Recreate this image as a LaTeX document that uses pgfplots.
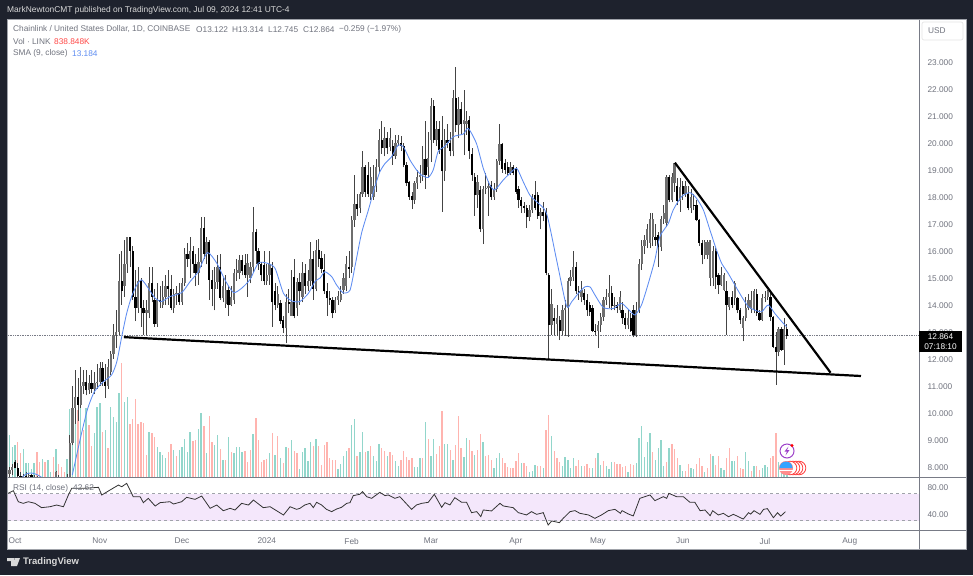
\documentclass[border=0pt]{standalone}
\usepackage{pgfplots}
\usepackage{pgfplotstable}
\usepackage{fontspec}
\setmainfont{Liberation Sans}
\pgfplotsset{compat=1.18}
\definecolor{bgdark}{HTML}{1E222D}
\definecolor{txtgrey}{HTML}{70737E}
\definecolor{upgrey}{HTML}{6E6E6E}
\definecolor{wick}{HTML}{444444}
\definecolor{volup}{HTML}{92D6CB}
\definecolor{voldn}{HTML}{FFB4AF}
\definecolor{smab}{HTML}{5E8DF2}
\definecolor{rsiband}{HTML}{F4E7FB}
\definecolor{axisline}{HTML}{787B86}
\definecolor{evpurple}{HTML}{9C3FC9}
\pgfplotstableread{
d o h l c
-2 7.75 8.0 7.6 7.9
-1 7.9 8.1 7.7 8.0
0 8.2 8.26 7.95 7.95
1 7.95 8.15 7.6 7.65
2 7.65 7.8 7.5 7.62
3 7.62 7.75 7.5 7.68
4 7.68 7.8 7.55 7.66
5 7.66 7.78 7.55 7.7
6 7.7 7.75 7.5 7.62
7 7.62 7.72 7.5 7.6
8 7.6 7.68 7.4 7.5
9 7.5 7.6 7.35 7.45
10 7.45 7.6 7.35 7.5
11 7.5 7.55 7.3 7.4
12 7.4 7.55 7.3 7.45
13 7.45 7.55 7.35 7.5
14 7.5 7.6 7.3 7.35
15 7.35 7.85 7.3 7.8
16 7.6 7.7 7.4 7.5
17 7.5 7.6 7.4 7.45
18 7.45 7.6 7.35 7.5
19 7.5 7.75 7.4 7.6
20 7.6 9.2 7.55 8.9
21 8.9 11.0 8.8 10.2
22 10.2 11.6 9.6 10.6
23 10.6 11.3 9.7 10.3
24 10.3 11.7 10.2 11.0
25 11.0 11.6 10.7 11.15
26 11.15 11.6 10.65 10.85
27 10.85 11.4 10.7 11.1
28 11.1 11.6 10.75 10.9
29 10.9 11.5 10.7 11.1
30 11.1 11.8 10.9 11.15
31 11.15 11.9 11.0 11.66
32 11.66 11.9 11.0 11.16
33 11.16 11.8 10.55 11.0
34 11.0 12.0 10.9 11.7
35 11.5 12.3 11.4 12.2
36 12.2 13.3 12.0 12.9
37 12.9 13.8 12.4 13.0
38 13.0 15.9 12.9 14.9
39 14.9 16.0 14.0 14.5
40 14.7 16.4 14.3 15.5
41 15.5 16.5 15.2 16.5
42 16.5 16.5 15.4 16.0
43 16.0 16.2 14.2 14.3
44 14.3 15.3 13.4 13.9
45 13.9 15.4 13.7 14.9
46 14.9 15.0 13.2 13.9
47 13.9 14.2 12.9 13.7
48 13.7 14.2 12.9 13.8
49 13.7 15.4 13.5 14.8
50 14.8 15.4 14.1 14.3
51 14.2 14.6 13.2 13.3
52 13.3 14.8 13.2 14.2
53 14.2 14.7 13.9 14.1
54 14.0 14.9 13.9 14.3
55 14.3 15.1 14.0 14.7
56 14.7 15.3 14.0 14.6
57 14.6 15.1 13.8 13.9
58 13.9 14.6 13.7 14.4
59 14.4 14.7 14.0 14.45
60 14.45 14.8 14.0 14.1
61 14.1 15.0 14.0 14.8
62 14.8 16.1 14.7 15.9
63 15.9 16.3 15.4 15.7
64 15.7 16.5 15.0 16.0
65 16.0 16.2 15.2 15.5
66 15.5 15.9 14.7 15.2
67 15.2 16.1 14.75 15.6
68 15.6 17.27 15.4 16.85
69 16.85 17.27 15.7 15.9
70 15.9 16.5 15.5 16.35
71 16.35 16.4 14.2 14.93
72 14.93 15.3 13.95 14.6
73 14.6 15.4 13.8 14.85
74 14.85 15.85 14.6 15.4
75 15.4 15.9 14.2 14.25
76 14.25 15.0 14.1 14.7
77 14.05 15.1 13.9 14.55
78 14.55 14.7 13.6 14.0
79 14.0 14.7 13.95 14.3
80 14.2 15.35 14.05 15.2
81 15.2 15.7 14.9 15.3
82 15.2 15.85 14.95 15.65
83 15.65 15.85 15.1 15.25
84 15.48 15.9 15.0 15.1
85 15.1 15.9 14.3 15.55
86 15.0 15.6 14.8 15.4
87 15.4 17.64 15.2 16.7
88 16.7 16.8 15.5 16.0
89 16.0 16.1 15.3 15.5
90 15.5 15.6 14.9 15.1
91 15.48 16.0 14.75 14.87
92 14.87 15.5 14.75 15.1
93 15.1 16.0 14.75 15.5
94 15.36 15.6 13.2 14.1
95 14.5 14.8 13.8 14.0
96 14.0 14.7 13.9 14.4
97 14.06 14.2 13.3 13.4
98 13.45 13.6 12.95 13.14
99 13.14 14.4 12.58 14.1
100 14.1 14.6 13.7 14.05
101 13.6 15.3 13.6 14.1
102 15.05 15.7 13.5 13.6
103 13.9 15.0 13.6 14.85
104 14.85 15.2 14.0 14.5
105 14.3 15.6 14.1 15.17
106 15.17 15.5 14.4 14.7
107 14.7 15.3 14.5 14.9
108 14.9 16.35 14.7 15.7
109 15.7 16.0 14.2 14.6
110 14.6 16.4 14.5 16.05
111 16.05 16.45 15.4 15.7
112 15.73 16.0 15.2 15.35
113 15.3 15.9 14.4 14.5
114 14.5 14.8 13.6 14.25
115 14.25 14.5 14.0 14.18
116 14.18 14.3 13.5 13.7
117 13.8 14.3 13.7 14.2
118 14.2 14.5 14.0 14.35
119 14.2 14.7 14.1 14.4
120 14.55 15.2 14.4 15.0
121 14.7 15.8 14.5 15.5
122 15.4 16.0 15.0 15.35
123 15.4 17.3 15.2 17.15
124 17.15 18.8 16.9 17.75
125 17.75 18.1 17.3 17.55
126 17.6 18.2 17.4 18.1
127 18.1 19.7 18.0 19.1
128 19.1 19.2 18.0 18.2
129 18.8 19.3 18.0 18.1
130 18.1 19.1 17.9 18.75
131 17.99 19.2 17.9 18.4
132 18.4 19.4 18.2 19.1
133 19.1 20.5 18.9 20.1
134 20.1 20.8 19.6 19.8
135 19.8 20.6 19.5 20.17
136 20.17 20.4 19.6 19.8
137 19.85 20.55 19.7 20.17
138 19.9 20.1 19.2 19.5
139 19.5 20.3 19.4 20.0
140 20.0 20.3 19.9 20.1
141 20.0 20.25 19.7 19.9
142 19.9 20.0 19.1 19.2
143 19.2 19.3 18.4 18.5
144 18.55 18.6 17.9 18.0
145 18.05 18.2 17.55 17.9
146 17.9 18.6 17.75 18.5
147 18.5 19.0 18.3 18.75
148 18.75 19.2 18.5 18.82
149 18.82 19.9 18.6 19.4
150 19.4 20.8 18.3 18.8
151 19.1 20.4 18.7 19.43
152 20.1 21.65 19.3 21.35
153 21.35 21.6 20.0 20.1
154 20.1 20.8 19.9 20.5
155 20.5 20.8 19.6 19.75
156 20.1 21.0 17.45 18.95
157 18.95 20.5 18.6 20.1
158 20.1 20.7 19.8 20.0
159 20.0 20.4 19.5 19.7
160 19.7 21.96 19.5 21.65
161 21.65 22.82 20.4 20.65
162 20.65 21.7 20.2 21.25
163 21.25 21.5 20.3 20.7
164 20.7 21.96 19.55 20.85
165 20.7 21.2 20.3 20.8
166 20.85 21.0 19.4 19.7
167 19.6 19.8 18.6 18.8
168 18.75 18.9 17.3 18.07
169 18.07 18.8 17.6 18.55
170 18.25 18.4 16.7 16.8
171 16.8 18.4 16.25 18.3
172 18.3 18.9 18.1 18.35
173 18.35 18.6 17.3 18.4
174 18.45 18.6 17.9 18.0
175 18.0 18.5 17.9 18.3
176 18.3 19.4 18.2 19.35
177 19.35 20.7 19.2 19.95
178 19.95 20.0 18.9 19.05
179 19.25 19.4 18.85 19.0
180 19.1 19.3 18.8 18.9
181 18.9 19.3 18.8 19.1
182 19.1 19.2 18.8 18.9
183 19.05 19.1 18.1 18.2
184 18.3 18.4 17.6 17.9
185 17.9 18.0 17.4 17.65
186 17.65 17.8 17.4 17.6
187 17.6 17.7 16.85 17.25
188 17.25 17.7 17.1 17.5
189 17.5 18.1 17.4 18.0
190 18.07 18.6 17.5 17.6
191 18.07 18.2 17.2 17.3
192 17.3 17.6 16.8 17.45
193 17.45 17.8 17.1 17.3
194 17.45 17.6 15.1 15.2
195 15.1 15.2 11.96 13.25
196 13.25 14.6 12.9 14.05
197 13.5 13.9 12.9 13.4
198 13.3 14.0 12.85 13.5
199 13.45 13.6 12.7 13.05
200 13.05 14.0 12.9 13.8
201 13.8 14.2 12.85 13.9
202 13.9 15.0 12.82 14.9
203 14.9 15.3 14.7 15.05
204 15.05 16.0 14.9 15.4
205 15.4 15.6 14.4 14.5
206 14.5 14.7 14.2 14.45
207 14.3 14.9 14.1 14.55
208 14.45 14.6 14.0 14.2
209 14.2 14.4 13.6 13.8
210 14.0 14.1 13.6 13.75
211 13.9 14.0 13.0 13.05
212 13.05 13.3 12.9 13.0
213 13.05 13.4 12.4 13.25
214 13.25 13.7 13.0 13.55
215 13.55 14.3 13.4 14.2
216 14.2 14.6 14.0 14.3
217 14.3 15.1 13.9 14.45
218 14.45 14.7 13.8 13.95
219 13.95 14.3 13.8 14.0
220 14.0 14.1 13.7 13.9
221 13.8 14.5 13.7 14.3
222 13.8 14.1 13.3 13.5
223 13.5 13.7 13.1 13.25
224 13.25 13.8 13.1 13.5
225 13.5 13.7 13.0 13.02
226 13.8 14.0 12.8 12.9
227 12.9 14.1 12.8 13.8
228 13.8 15.7 13.7 15.5
229 15.5 16.4 15.3 16.2
230 16.2 16.6 15.9 16.4
231 16.4 17.0 16.1 16.8
232 16.3 17.4 16.1 17.2
233 16.5 17.4 16.2 17.2
234 16.5 17.0 16.2 16.4
235 16.6 16.7 15.4 16.15
236 16.15 17.3 16.0 17.2
237 17.2 17.7 17.0 17.4
238 17.05 18.8 16.9 18.75
239 18.75 18.8 17.8 17.9
240 17.9 18.9 17.8 18.75
241 18.5 19.25 18.2 19.25
242 18.4 18.7 17.7 17.85
243 17.85 18.7 17.45 18.38
244 18.4 18.6 17.9 18.1
245 18.1 18.6 18.0 18.4
246 18.1 18.4 17.5 17.6
247 17.6 18.3 17.4 18.0
248 17.7 18.1 17.5 17.65
249 17.7 17.9 17.1 17.15
250 17.15 17.2 16.2 16.3
251 16.3 16.4 15.5 15.85
252 15.85 16.4 15.7 16.35
253 15.85 16.4 15.7 16.35
254 15.0 16.4 14.7 16.4
255 15.0 16.2 14.7 16.0
256 16.0 16.1 14.6 15.05
257 15.1 15.2 14.4 14.75
258 14.75 15.4 14.7 15.1
259 14.55 15.2 14.5 15.1
260 14.5 14.9 12.9 14.0
261 13.94 14.3 13.8 14.3
262 14.3 14.5 13.9 14.0
263 14.25 14.9 14.0 14.8
264 14.25 14.3 13.7 13.8
265 13.8 13.9 13.3 13.45
266 13.15 13.6 12.65 13.5
267 13.5 14.3 13.4 13.9
268 13.9 14.4 13.8 14.2
269 13.85 14.5 13.7 14.2
270 13.85 14.6 13.7 14.5
271 14.4 14.6 13.6 13.7
272 13.7 13.8 13.4 13.45
273 13.45 14.4 13.4 14.25
274 14.25 14.5 14.1 14.3
275 14.3 14.56 14.2 14.5
276 14.3 14.5 13.4 13.55
277 13.55 13.6 12.4 12.45
278 12.45 13.0 11.04 12.25
279 12.25 13.2 12.1 13.1
280 13.1 13.2 12.3 12.35
281 12.35 13.5 11.78 13.12
282 13.122 13.314 12.745 12.864
}\ohlc
\newcommand{\txt}[4][txtgrey]{\node[anchor=west,inner sep=0pt,text=#1,font=\fontsize{8.3}{10}\selectfont] at (#2,#3) {#4};}
\begin{document}
\begin{tikzpicture}[x=1pt,y=-1pt]
\path[use as bounding box,fill=bgdark] (0,0) rectangle (973,575);
\fill[white] (7.5,19) rectangle (966,549);
% volume
\begin{axis}[at={(8pt,-477pt)},anchor=south west,scale only axis,width=911pt,height=458pt,
  xmin=-2.56,xmax=330.3,ymin=0,ymax=458,hide axis,clip=true]
\addplot[ycomb,volup,line width=1.35pt,no marks] coordinates {
(-2,42)(-1,30)(0,32)(3,28)(4,14)(5,14)(6,8)(7,14)(10,18)(12,17)(13,5)(15,28)(19,18)(20,68)(21,79)(22,107)(24,92)(26,69)(29,44)(30,70)(31,74)(33,47)(35,70)(36,60)(37,55)(38,84)(40,75)(41,80)(49,45)(52,30)(53,25)(54,22)(55,19)(58,27)(60,27)(61,30)(62,38)(63,25)(64,45)(67,48)(68,64)(70,24)(73,32)(74,42)(76,17)(78,40)(80,24)(81,30)(82,30)(83,25)(87,43)(93,24)(95,22)(97,19)(99,30)(101,37)
(104,8)(105,25)(106,29)(107,16)(108,35)(110,38)(118,8)(119,13)(120,21)(121,26)(123,52)(124,58)(126,25)(127,45)(129,26)(131,21)(132,16)(133,33)(136,21)(139,16)(140,11)(146,10)(147,10)(148,19)(150,55)(152,21)(153,38)(157,33)(158,33)(160,17)(164,20)(165,39)(168,22)(171,35)(175,9)(176,19)(177,24)(185,14)(188,5)(189,6)(190,12)(193,9)(196,41)(200,11)(201,20)(202,17)(203,9)(204,19)(207,11)(211,9)(213,24)(214,12)(216,11)(217,8)(218,15)(224,5)(227,14)(228,39)(229,51)(230,20)(231,35)(232,44)(234,17)(235,29)(236,37)(237,11)(239,29)(243,12)
(244,6)(247,9)(248,8)(252,5)(255,21)(258,9)(259,7)(262,16)(263,16)(267,25)(268,16)(270,11)(273,9)(274,12)(275,10)(279,15)(280,6)(281,10)(282,5)};
\addplot[ycomb,voldn,line width=1.35pt,no marks] coordinates {
(1,35)(2,24)(8,25)(9,15)(11,15)(14,20)(16,13)(17,10)(18,5)(23,67)(25,47)(27,52)(28,31)(32,45)(34,29)(39,114)(42,53)(43,58)(44,78)(45,53)(46,55)(47,54)(48,22)(50,44)(51,40)(56,25)(57,33)(59,21)(65,36)(66,37)(69,51)(71,61)(72,35)(75,28)(77,17)(79,25)(84,26)(85,15)(86,27)(88,59)(89,37)(90,15)(91,17)(92,18)(94,44)(96,41)(98,14)(100,29)(102,26)(103,24)
(109,31)(111,31)(112,12)(113,32)(114,35)(115,19)(116,17)(117,17)(122,29)(125,21)(128,25)(130,31)(134,29)(135,26)(137,25)(138,22)(141,17)(142,26)(143,20)(144,17)(145,19)(149,19)(151,38)(154,23)(155,31)(156,66)(159,27)(161,32)(162,61)(163,29)(166,37)(167,26)(169,27)(170,43)(172,21)(173,22)(174,17)(178,19)(179,14)(180,10)(181,9)(182,9)(183,16)(184,24)(186,14)(187,11)(191,11)(192,11)(194,47)(195,62)(197,26)(198,19)(199,15)(205,11)(206,17)(208,11)(209,13)(210,9)(212,19)(215,16)(219,15)(220,13)(221,13)(222,10)(223,11)(225,13)(226,12)(233,25)(238,15)(240,33)(241,28)(242,19)
(245,6)(246,13)(249,13)(250,19)(251,11)(253,9)(254,23)(256,12)(257,21)(260,19)(261,29)(264,21)(265,9)(266,8)(269,6)(271,11)(272,7)(276,19)(277,21)(278,44)};
\end{axis}
% price
\begin{axis}[at={(8pt,-477pt)},anchor=south west,scale only axis,width=911pt,height=458pt,
  xmin=-2.56,xmax=330.3,ymin=7.63,ymax=24.59,
  axis line style={draw=none},
  xtick=\empty,ytick={8,9,...,23},yticklabel pos=right,major tick length=0pt,
  yticklabel style={xshift=5pt,yshift=-1pt,font=\fontsize{8.3}{10}\selectfont,text=txtgrey,/pgf/number format/fixed,/pgf/number format/fixed zerofill,/pgf/number format/precision=3,/pgf/number format/1000 sep={},/pgf/number format/assume math mode=true},
  unbounded coords=discard,clip=true]
\addplot[draw=axisline,densely dotted,line width=0.7pt,forget plot] coordinates {(-2.56,12.864)(330.3,12.864)};
\addplot[draw=none,no marks,forget plot,error bars/.cd,y dir=plus,y explicit,error mark=none,error bar style={wick,line width=0.7pt}]
  table[x=d,y=l,y error plus expr=\thisrow{h}-\thisrow{l}] {\ohlc};
\addplot[draw=none,no marks,forget plot,error bars/.cd,y dir=plus,y explicit,error mark=none,error bar style={upgrey,line width=2.3pt}]
  table[x=d,y expr={\thisrow{c}>=\thisrow{o}?\thisrow{o}:nan},y error plus expr=\thisrow{c}-\thisrow{o}] {\ohlc};
\addplot[draw=none,no marks,forget plot,error bars/.cd,y dir=plus,y explicit,error mark=none,error bar style={black,line width=2.3pt}]
  table[x=d,y expr={\thisrow{c}<\thisrow{o}?\thisrow{c}:nan},y error plus expr=\thisrow{o}-\thisrow{c}] {\ohlc};
\addplot[smab,line width=0.85pt,no marks,smooth,tension=0.4] coordinates {(2.5,7.6)(4,7.74)(6,7.78)(8,7.72)(10,7.6)};
\addplot[smab,line width=0.85pt,no marks,smooth,tension=0.4] coordinates {
(20.95,7.71)(23.75,9.0)(26.4,10.11)(29,10.79)(32.3,11.16)(35.3,11.41)(37.2,11.9)(39,12.83)(40.8,13.69)(42.6,14.31)(44.5,14.74)(46.3,14.93)(48.7,14.62)(51.2,14.25)(53.6,14.13)(56.6,14.31)(60.9,14.46)(64,14.87)(67,15.24)(70.3,15.94)(73.7,15.55)(76.7,14.93)(79.8,14.46)(82.8,14.62)(85.9,14.95)(88.9,15.55)(92,15.55)(95,15.36)(98.1,14.43)(101.1,14.15)(104.1,14.13)(107.2,14.43)(109.6,14.87)(111.5,15.0)
(113.2,15.23)(115.7,15.05)(117.5,14.74)(119.9,14.45)(122.4,14.55)(124.2,15.42)(126.6,16.65)(129.1,17.51)(131.5,18.38)(133.3,18.93)(135.2,19.24)(137.6,19.49)(140,19.92)(141.9,19.86)(144.3,19.37)(146.7,19.0)(148.5,18.81)(150.98,18.72)(152.8,19.0)(154.6,19.68)(157.1,19.88)(160.1,20.23)(163.8,20.33)(165.6,20.54)(168.6,19.98)(171.1,19.06)(173.5,18.44)(175.3,18.26)(178.4,18.63)(180.8,18.87)(183.3,19.06)(185.7,18.56)(188.1,18.07)(190.6,17.82)(194.2,17.39)(197.9,15.66)(201.5,13.96)(203.4,14.12)(205.8,14.43)(208.2,14.67)(210.1,14.67)(211.9,14.37)(214.9,13.91)(218.6,13.87)(221.6,14.06)(224.1,13.84)(226.5,13.63)
(228.9,14.0)(231.4,14.8)(233.8,15.67)(235.6,16.53)(238.7,17.02)(240.5,17.52)(243.5,18.01)(246.6,18.16)(249,17.95)(251.5,17.52)(253.9,16.78)(256.3,16.04)(258.2,15.54)(260.6,15.17)(263,14.74)(265.5,14.31)(267.9,13.94)(270.3,13.81)(272.8,13.75)(275.2,14.0)(277.6,13.69)(280.7,13.32)(281.9,13.2)};
\addplot[black,line width=2.2pt,no marks] coordinates {(39.8,12.81)(309.1,11.37)};
\addplot[black,line width=2.2pt,no marks] coordinates {(241.1,19.27)(298,11.49)};
\end{axis}
% RSI
\begin{axis}[at={(8pt,-530pt)},anchor=south west,scale only axis,width=911pt,height=53pt,
  xmin=-2.56,xmax=330.3,ymin=16.3,ymax=94.8,
  axis line style={draw=none},
  xtick={0,31,61,92,123,152,183,213,244,274,305},
  xticklabels={Oct,Nov,Dec,2024,Feb,Mar,Apr,May,Jun,Jul,Aug},
  xticklabel style={font=\fontsize{8.3}{10}\selectfont,text=txtgrey,yshift=-4.5pt},
  ytick={40,80},yticklabel pos=right,major tick length=0pt,
  yticklabel style={xshift=5pt,yshift=-1pt,font=\fontsize{8.3}{10}\selectfont,text=txtgrey,/pgf/number format/fixed,/pgf/number format/fixed zerofill,/pgf/number format/precision=2,/pgf/number format/assume math mode=true},
  clip=true]
\addplot[draw=none,fill=rsiband,forget plot] coordinates {(-2.56,30)(330.3,30)(330.3,70)(-2.56,70)} --cycle;
\addplot[draw=axisline!70,dashed,line width=0.6pt,forget plot] coordinates {(-2.56,70)(330.3,70)};
\addplot[draw=axisline!70,dashed,line width=0.6pt,forget plot] coordinates {(-2.56,30)(330.3,30)};
\addplot[black!80,line width=0.8pt,no marks] coordinates {
(-2.5,70.6)(-0.6,74.5)(1.2,58.2)(3,55.8)(4.9,58.2)(7.3,55.8)(9.7,49.4)(12.8,50.8)(15.2,53.3)(17.7,50.8)(19.5,68.1)(20.7,78)(25,78)(30.5,79.5)(31.7,68.1)(34.7,75.5)(37.8,82.9)(39,80.4)(40.8,85.4)(43.2,65.7)(45.7,65.7)(46.9,56.8)(48.7,63.2)(51.2,51.8)(53,56.8)(56.6,58.2)(57.9,54.8)(60.9,58.2)(62.7,64.7)(65.8,61.7)(68.2,66.6)(71.3,48.4)(73.7,53.3)(76.1,44.9)(78.6,48.4)(80.4,45.9)(82.8,55.8)(85.3,53.3)(87.1,60.7)(90.7,49.4)(93.2,50.8)(98.1,38.5)(100.5,50.8)(102.9,46.9)
(104.1,48.4)(105.9,53.4)(107.8,55.8)(109,49.4)(110.2,57.3)(112,53.4)(113.8,46.9)(115.7,43.5)(117.5,47.4)(119.3,49.9)(121.2,55.8)(122.4,56.8)(123.6,67.2)(126,69.2)(127,73.1)(128.5,65.7)(130.3,63.2)(133.3,72.1)(135.2,67.2)(136.4,68.2)(138.8,63.2)(140.6,65.7)(144.9,46.9)(146.7,53.4)(148.6,55.8)(151,57.3)(153.2,69.2)(155.9,49.9)(157.1,56.8)(158.9,53.4)(160.7,64.2)(163.2,57.3)(165,57.3)(166.8,42)(168.7,43.5)(170.2,36.1)(171.1,46)(174.1,44.5)(177.2,55.8)(178.4,51.9)(182,49.4)(183.9,42)(186.9,38.6)(188.7,43.5)(190.6,39.5)(193,42)(194.8,23.7)(196.1,29.7)(198.9,27.2)(200.3,33.6)(202.8,43.5)(204.6,45)(206.4,41)(209.5,38.6)(211.9,33.6)(214.3,38.6)(216.8,45)(219.2,46.9)(221.2,41)(221.8,45)(224.1,40)(225.9,37.1)(228.3,63.2)(232,68.2)(233.8,59.8)(236.9,65.7)(238.1,63.2)(238.9,70.6)(241.7,65.7)(244.2,65.7)(246.6,57.3)(248.4,57.3)(250.3,44.9)
(252.1,45.9)(254,37.5)(254.9,44.9)(257,38.5)(258.8,41)(260.7,36)(262.5,39.5)(266.1,32.5)(268,41.9)(268.8,39.9)(270,44.9)(272.2,39.5)(273.5,46.9)(274.9,47.9)(277.1,34.5)(278.6,41.9)(279.8,37)(281.5,43.4)};
\end{axis}
% frame lines
\draw[axisline,line width=1pt] (8,477) -- (966,477);
\draw[axisline,line width=1pt] (8,530) -- (966,530);
\draw[axisline,line width=1pt] (919,19) -- (919,549);
\draw[axisline!70,line width=0.6pt] (7.5,19) rectangle (966,549);
\draw[black!10,line width=0.7pt,rounded corners=2pt] (922,22) rectangle (963,40);
% legend
\node[anchor=west,inner sep=0pt,text=white!85!black,font=\fontsize{8.4}{10}\selectfont] at (7,10.5) {MarkNewtonCMT published on TradingView.com, Jul 09, 2024 12:41 UTC-4};
\txt{13}{29.5}{Chainlink / United States Dollar, 1D, COINBASE}
\txt{196}{29.5}{O13.122}
\txt{232}{29.5}{H13.314}
\txt{268}{29.5}{L12.745}
\txt{303}{29.5}{C12.864}
\txt{339}{29.5}{−0.259 (−1.97\%)}
\txt{13}{41.5}{Vol · LINK}
\txt[voldn!40!red]{54}{41.5}{838.848K}
\txt{13}{53.5}{SMA (9, close)}
\txt[smab]{72}{53.5}{13.184}
\txt{13}{488}{RSI (14, close)}
\txt{73}{488}{42.62}
\txt{928}{31}{USD}
% last price
\fill[black] (919,331) rectangle (962,352);
\node[inner sep=0pt,text=white,font=\fontsize{8.3}{10}\selectfont] at (940.5,337) {12.864};
\node[inner sep=0pt,text=white,font=\fontsize{8.3}{10}\selectfont] at (940.5,346.5) {07:18:10};
% event icons
\draw[evpurple,line width=1pt,fill=white] (787,451) circle (7);
\fill[evpurple] (788.5,446.5) -- (784.5,451.5) -- (787,451.5) -- (785.5,455.5) -- (789.5,450) -- (787,450) -- cycle;
\fill[red] (792,445.5) circle (1.7);
\foreach \xx in {799,796,793,790}{\draw[red!75,line width=0.8pt,fill=white] (\xx,468) circle (6.8);}
\fill[red!45] (786,468) circle (7);
\fill[white] (779.3,469.5) rectangle (792.7,471);
\fill[blue!45!cyan!80] (786,468) ++(-6.5,0) arc (180:360:6.5) -- cycle;
% bottom logo
\fill[white!85!black] (7,558) -- (14,558) -- (14,566) -- (11,566) -- (11,561) -- (7,561) -- cycle;
\fill[white!85!black] (14.5,558) -- (20,558) -- (17,566) -- (13.5,566) -- cycle;
\node[anchor=west,inner sep=0pt,text=white!85!black,font=\fontsize{9.5}{11}\bfseries\selectfont] at (23,562) {TradingView};
\end{tikzpicture}
\end{document}
